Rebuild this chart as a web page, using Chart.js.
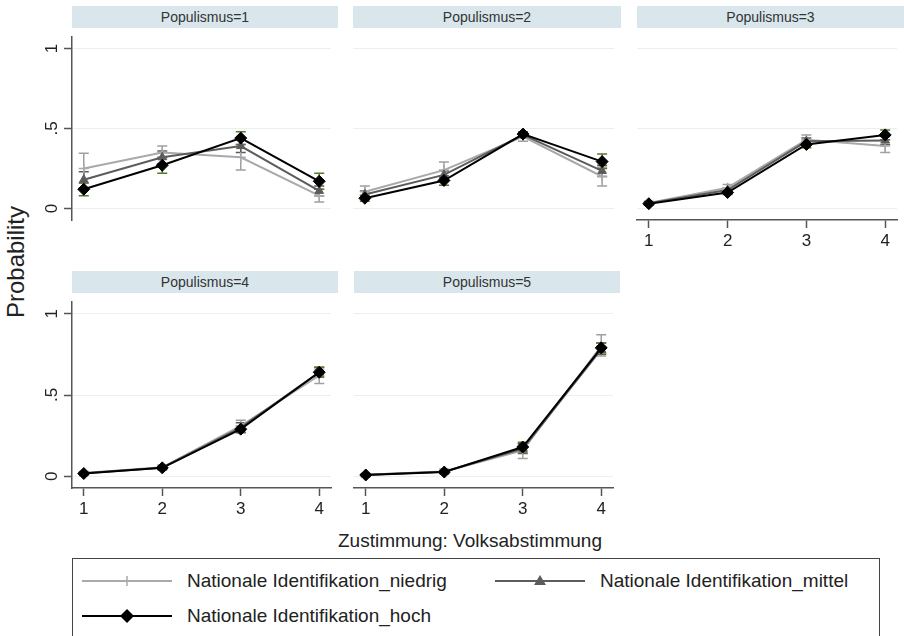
<!DOCTYPE html>
<html>
<head>
<meta charset="utf-8">
<script src="https://cdn.jsdelivr.net/npm/chart.js@4.4.1/dist/chart.umd.min.js"></script>
<style>
  body { margin: 0; background: #fff; width: 904px; height: 636px; overflow: hidden; position: relative;
         font-family: Arial, "Liberation Sans", sans-serif; color: #222; }
  canvas { position: absolute; }
  .strip { position: absolute; background: #d9e6ec; color: #333; font-size: 14px; text-align: center;
           height: 22px; line-height: 22px; }
  .ytitle { position: absolute; left: 16px; top: 262px; font-size: 24px; transform: translate(-50%, -50%) rotate(-90deg); white-space: nowrap; }
  .xtitle { position: absolute; left: 470px; top: 541px; font-size: 19px; transform: translate(-50%, -50%); white-space: nowrap; }
  .legend { position: absolute; left: 72px; top: 558px; width: 806px; height: 100px; border: 1px solid #444; }
  .item { position: absolute; font-size: 19px; white-space: nowrap; display: flex; align-items: center; }
  .item svg { margin-right: 13px; }
</style>
</head>
<body>
<div class="ytitle">Probability</div>
<div class="xtitle">Zustimmung: Volksabstimmung</div>
<div class="legend" id="legend"></div>
<script>
const categories = [1, 2, 3, 4];
const panelTitles = ['Populismus=1', 'Populismus=2', 'Populismus=3', 'Populismus=4', 'Populismus=5'];
const seriesNames = ['Nationale Identifikation_niedrig', 'Nationale Identifikation_mittel', 'Nationale Identifikation_hoch'];
const yTicks = [0, 0.5, 1];

// one row per panel (Populismus=1..5), one value per category
const niedrigMean = [
  [0.25, 0.35, 0.32, 0.08],
  [0.105, 0.24, 0.45, 0.20],
  [0.035, 0.13, 0.43, 0.39],
  [0.02, 0.055, 0.31, 0.62],
  [0.01, 0.03, 0.16, 0.80],
];
const niedrigLow = [
  [0.16, 0.31, 0.24, 0.04],
  [0.07, 0.19, 0.42, 0.14],
  [0.025, 0.11, 0.40, 0.35],
  [0.01, 0.04, 0.27, 0.57],
  [0.003, 0.015, 0.11, 0.74],
];
const niedrigHigh = [
  [0.345, 0.39, 0.40, 0.12],
  [0.14, 0.29, 0.48, 0.26],
  [0.045, 0.15, 0.46, 0.43],
  [0.03, 0.07, 0.345, 0.66],
  [0.017, 0.045, 0.20, 0.87],
];
const mittelMean = [
  [0.18, 0.32, 0.39, 0.11],
  [0.088, 0.21, 0.46, 0.235],
  [0.033, 0.115, 0.42, 0.425],
  [0.018, 0.053, 0.30, 0.64],
  [0.01, 0.028, 0.17, 0.78],
];
const mittelLow = [
  [0.13, 0.28, 0.35, 0.08],
  [0.065, 0.185, 0.44, 0.20],
  [0.025, 0.10, 0.40, 0.40],
  [0.012, 0.045, 0.27, 0.61],
  [0.005, 0.02, 0.14, 0.75],
];
const mittelHigh = [
  [0.23, 0.36, 0.43, 0.14],
  [0.11, 0.235, 0.48, 0.27],
  [0.04, 0.13, 0.44, 0.45],
  [0.024, 0.06, 0.33, 0.67],
  [0.015, 0.036, 0.20, 0.82],
];
const hochMean = [
  [0.12, 0.27, 0.44, 0.17],
  [0.064, 0.175, 0.465, 0.293],
  [0.03, 0.10, 0.40, 0.46],
  [0.017, 0.052, 0.29, 0.64],
  [0.008, 0.026, 0.18, 0.79],
];
const hochLow = [
  [0.08, 0.22, 0.40, 0.12],
  [0.045, 0.145, 0.45, 0.25],
  [0.022, 0.088, 0.38, 0.43],
  [0.012, 0.044, 0.27, 0.61],
  [0.004, 0.019, 0.15, 0.76],
];
const hochHigh = [
  [0.16, 0.32, 0.48, 0.22],
  [0.083, 0.205, 0.48, 0.34],
  [0.038, 0.112, 0.42, 0.49],
  [0.022, 0.06, 0.31, 0.67],
  [0.012, 0.033, 0.21, 0.82],
];

const SERIES = [
  { mean: niedrigMean, low: niedrigLow, high: niedrigHigh, line: '#a9a9a9', err: '#a0a0a0', point: 'cross', radius: 5, order: 3 },
  { mean: mittelMean, low: mittelLow, high: mittelHigh, line: '#5c5c5c', err: '#5c5c5c', point: 'triangle', radius: 5, order: 2 },
  { mean: hochMean, low: hochLow, high: hochHigh, line: '#000000', err: '#557a2a', point: 'rectRot', radius: 6, order: 1 },
];

// plot regions of the five panels
const LAYOUT = [
  { left: 72, top: 30, w: 266, h: 190, showY: true, showX: false },
  { left: 353, top: 30, w: 268, h: 190, showY: false, showX: false },
  { left: 637, top: 30, w: 267, h: 190, showY: false, showX: true },
  { left: 72, top: 295, w: 266, h: 193, showY: true, showX: true },
  { left: 354, top: 295, w: 266, h: 193, showY: false, showX: true },
];
const Y_AXIS_W = 60;
const X_AXIS_H = 40;
const AXIS_COLOR = '#555';
const TICK_FONT = { size: 17, family: 'Arial, "Liberation Sans", sans-serif' };

const errorBars = {
  id: 'errorBars',
  beforeDatasetsDraw(chart) {
    const { ctx, scales: { x, y } } = chart;
    chart.data.datasets.slice().sort((a, b) => b.order - a.order).forEach(ds => {
      ctx.save();
      ctx.strokeStyle = ds.errColor;
      ctx.lineWidth = 1.5;
      ds.data.forEach((pt, i) => {
        const px = x.getPixelForValue(pt.x);
        const lo = y.getPixelForValue(ds.errLow[i]);
        const hi = y.getPixelForValue(ds.errHigh[i]);
        ctx.beginPath();
        ctx.moveTo(px, lo); ctx.lineTo(px, hi);
        ctx.moveTo(px - 5, lo); ctx.lineTo(px + 5, lo);
        ctx.moveTo(px - 5, hi); ctx.lineTo(px + 5, hi);
        ctx.stroke();
      });
      ctx.restore();
    });
  }
};

function renderPanel(p) {
  const L = LAYOUT[p];

  const strip = document.createElement('div');
  strip.className = 'strip';
  strip.style.left = L.left + 'px';
  strip.style.top = (L.top - 24) + 'px';
  strip.style.width = L.w + 'px';
  strip.textContent = panelTitles[p];
  document.body.appendChild(strip);

  const canvas = document.createElement('canvas');
  canvas.width = Y_AXIS_W + L.w;
  canvas.height = L.h + X_AXIS_H;
  canvas.style.left = (L.left - Y_AXIS_W) + 'px';
  canvas.style.top = L.top + 'px';
  document.body.appendChild(canvas);

  new Chart(canvas, {
    type: 'line',
    data: {
      datasets: SERIES.map((s, k) => ({
        label: seriesNames[k],
        data: categories.map((c, i) => ({ x: c, y: s.mean[p][i] })),
        errLow: s.low[p],
        errHigh: s.high[p],
        errColor: s.err,
        borderColor: s.line,
        backgroundColor: s.line,
        borderWidth: 2,
        pointStyle: s.point,
        pointRadius: s.radius,
        pointBorderWidth: s.point === 'cross' ? 1.5 : 1,
        pointBorderColor: s.line,
        pointBackgroundColor: s.line,
        order: s.order,
        tension: 0,
      })),
    },
    options: {
      responsive: false,
      animation: false,
      layout: { padding: 0 },
      plugins: { legend: { display: false }, tooltip: { enabled: false } },
      scales: {
        x: {
          type: 'linear',
          min: 0.85,
          max: 4.15,
          afterBuildTicks: sc => { sc.ticks = categories.map(v => ({ value: v })); },
          afterFit: sc => { sc.height = X_AXIS_H; sc.paddingLeft = 0; sc.paddingRight = 0; },
          border: { display: L.showX, color: AXIS_COLOR, width: 1.5 },
          grid: { display: L.showX, drawOnChartArea: false, drawTicks: true, tickLength: 8, tickColor: AXIS_COLOR, tickWidth: 1.5 },
          ticks: { display: L.showX, color: '#222', font: TICK_FONT, padding: 3, maxRotation: 0, autoSkip: false },
        },
        y: {
          min: -0.072,
          max: 1.072,
          afterBuildTicks: sc => { sc.ticks = yTicks.map(v => ({ value: v })); },
          afterFit: sc => { sc.width = Y_AXIS_W; sc.paddingTop = 0; sc.paddingBottom = 0; },
          border: { display: L.showY, color: AXIS_COLOR, width: 1.5 },
          grid: { color: '#e9eff2', lineWidth: 1, drawTicks: L.showY, tickLength: 8, tickColor: AXIS_COLOR, tickWidth: 1.5 },
          ticks: {
            display: L.showY,
            color: '#222',
            font: TICK_FONT,
            padding: 5,
            minRotation: 90,
            maxRotation: 90,
            crossAlign: 'center',
            autoSkip: false,
            callback: v => v === 0.5 ? '.5' : String(v),
          },
        },
      },
    },
    plugins: [errorBars],
  });
}

function renderLegend() {
  const legend = document.getElementById('legend');
  const marks = [
    '<line x1="0" y1="10" x2="90" y2="10" stroke="#a9a9a9" stroke-width="2"/><path d="M40 10 H50 M45 5 V15" stroke="#a9a9a9" stroke-width="1.5"/>',
    '<line x1="0" y1="10" x2="90" y2="10" stroke="#5c5c5c" stroke-width="2"/><path d="M45 4 L51 14 L39 14 Z" fill="#5c5c5c"/>',
    '<line x1="0" y1="10" x2="90" y2="10" stroke="#000" stroke-width="2"/><path d="M45 3 L52 10 L45 17 L38 10 Z" fill="#000"/>',
  ];
  const pos = [[9, 11], [422, 11], [9, 46]];
  legend.innerHTML = seriesNames.map((n, k) =>
    `<div class="item" style="left:${pos[k][0]}px;top:${pos[k][1]}px"><svg width="92" height="20">${marks[k]}</svg>${n}</div>`
  ).join('');
}

panelTitles.forEach((_, p) => renderPanel(p));
renderLegend();
</script>
</body>
</html>
